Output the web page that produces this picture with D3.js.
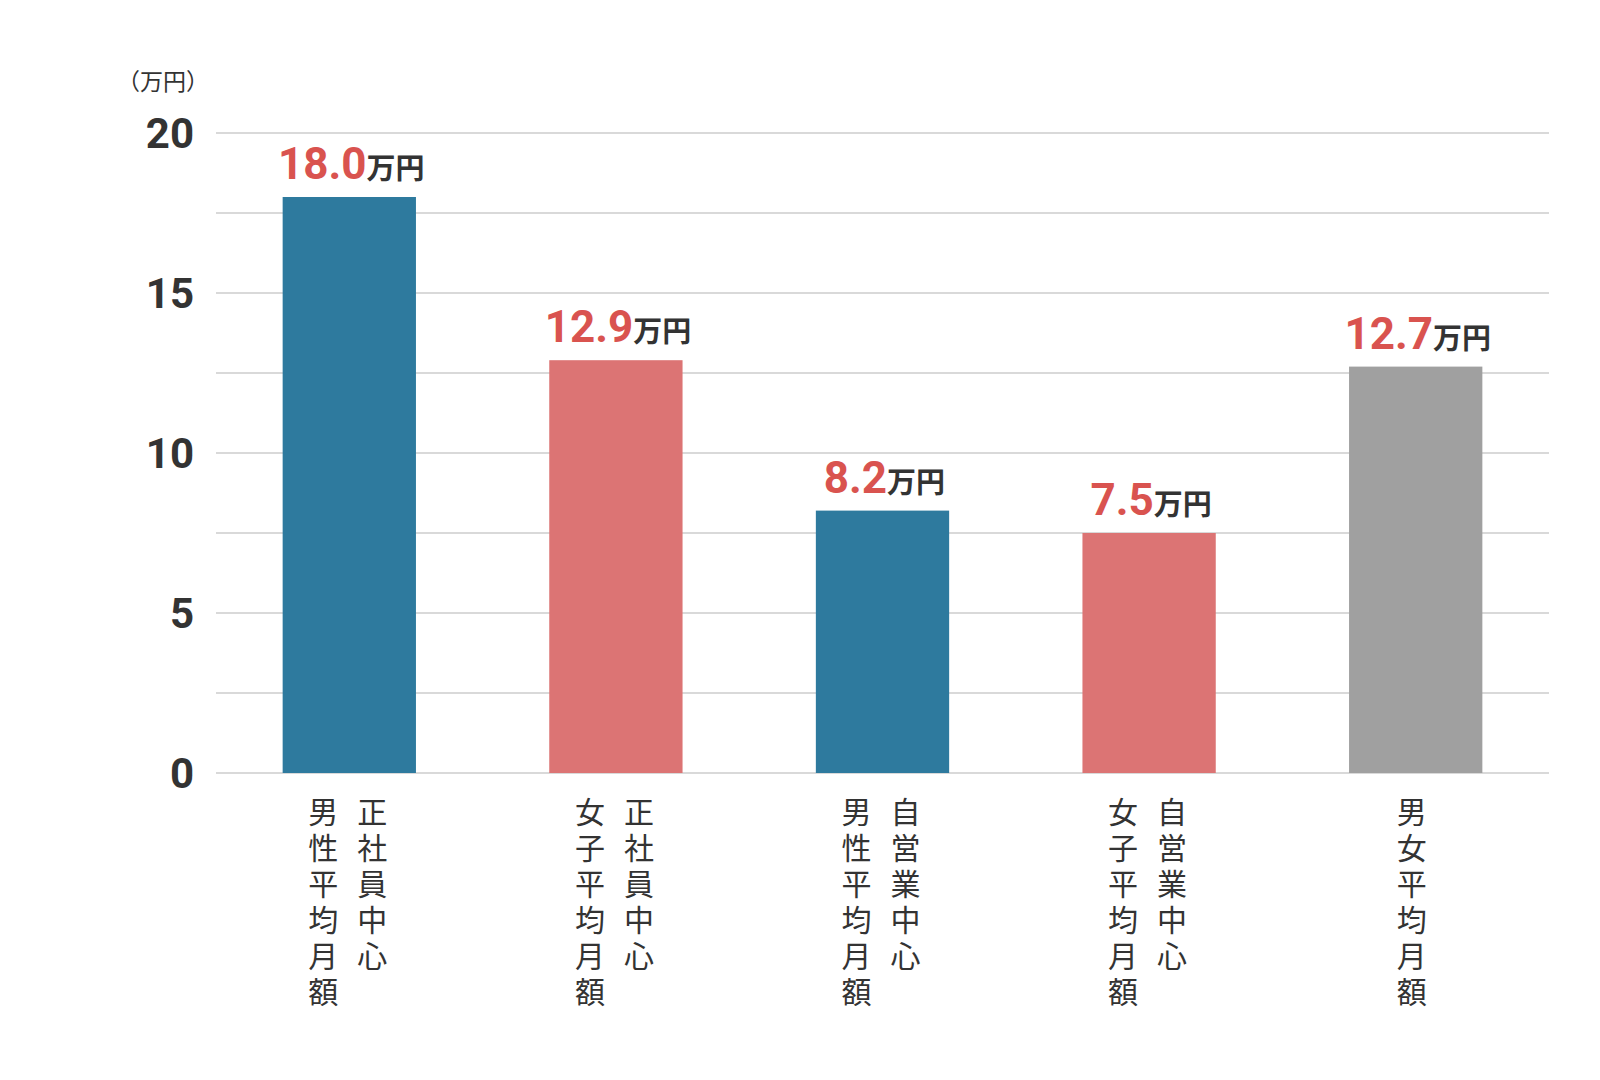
<!DOCTYPE html>
<html><head><meta charset="utf-8">
<script src="https://cdn.jsdelivr.net/npm/d3@7"></script>
<style>body{margin:0;background:#fff}</style></head>
<body><svg id="c" width="1600" height="1080"></svg>
<script>
const categories = ["male_regular","female_regular","male_self","female_self","all"];
const labelCols = [["男性平均月額","正社員中心"],["女子平均月額","正社員中心"],["男性平均月額","自営業中心"],["女子平均月額","自営業中心"],["男女平均月額"]];
const values = [18.0, 12.9, 8.2, 7.5, 12.7];
const valueLabels = ["18.0","12.9","8.2","7.5","12.7"];
const colors = ["#2e7a9e","#dc7474","#2e7a9e","#dc7474","#a0a0a0"];
const ticks = [0,5,10,15,20];
const gridTicks = [0,2.5,5,7.5,10,12.5,15,17.5,20];

const svg = d3.select("#c");
const font = "'Noto Sans CJK JP','Noto Sans',sans-serif";
const numFont = "Roboto,'Noto Sans',sans-serif";
const x = d3.scaleBand().domain(categories).range([216,1549]).paddingInner(0.5).paddingOuter(0.25);
const y = d3.scaleLinear().domain([0,20]).range([773,133]);

svg.append("g").selectAll("line").data(gridTicks).join("line")
  .attr("x1",216).attr("x2",1549).attr("y1",d=>y(d)).attr("y2",d=>y(d))
  .attr("stroke","#d9d9d9").attr("stroke-width",2);

svg.append("g").selectAll("text").data(ticks).join("text")
  .attr("x",194).attr("y",d=>y(d)+15).attr("text-anchor","end")
  .attr("font-family",numFont).attr("font-weight","bold").attr("font-size",42).attr("fill","#333")
  .text(d=>d);
svg.append("text").attr("x",163).attr("y",90).attr("text-anchor","middle")
  .attr("font-family",font).attr("font-size",23).attr("fill","#333").text("（万円）");

svg.append("g").selectAll("rect").data(values).join("rect")
  .attr("x",(d,i)=>x(categories[i])).attr("width",x.bandwidth())
  .attr("y",d=>y(d)).attr("height",d=>y(0)-y(d)).attr("fill",(d,i)=>colors[i]);

values.forEach((v,i)=>{
  const cx = x(categories[i])+x.bandwidth()/2;
  const t = svg.append("text").attr("x",cx+2).attr("y",y(v)-18).attr("text-anchor","middle")
    .attr("font-weight","bold");
  t.append("tspan").attr("font-family",numFont).attr("font-size",44).attr("fill","#d9534f").text(valueLabels[i]);
  t.append("tspan").attr("font-family",font).attr("font-size",29).attr("fill","#333").text("万円");
  const cols = labelCols[i];
  const offs = cols.length===2 ? [-26,23] : [-4];
  cols.forEach((s,j)=>{
    [...s].forEach((ch,k)=>{
      svg.append("text").attr("x",cx+offs[j]).attr("y",823+k*36).attr("text-anchor","middle")
        .attr("font-family",font).attr("font-size",30).attr("fill","#333").text(ch);
    });
  });
});
</script></body></html>
